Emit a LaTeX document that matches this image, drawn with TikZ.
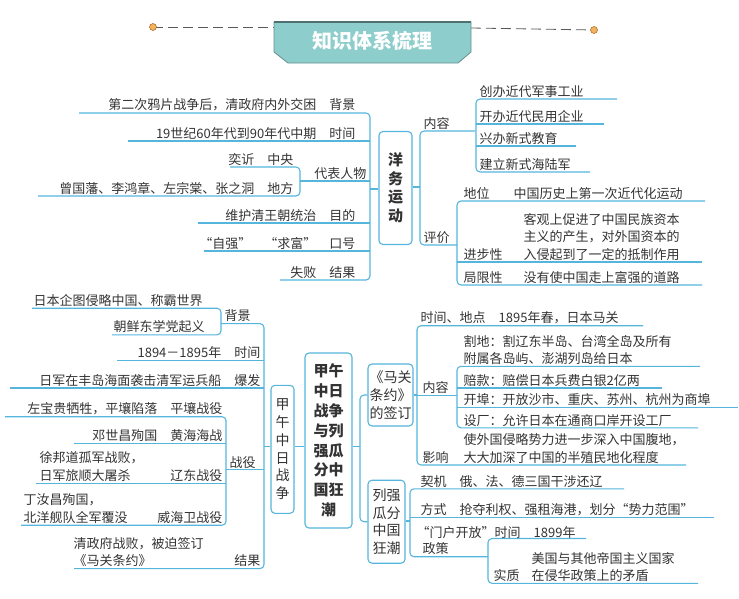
\documentclass[tikz,border=0pt]{standalone}
\usepackage{fontspec}
\setmainfont{Noto Sans CJK SC}
\usetikzlibrary{positioning}
\definecolor{lnblue}{HTML}{55B5DC}
\definecolor{txtgray}{HTML}{333333}
\definecolor{bannerfill}{HTML}{8DCDCB}
\definecolor{dotorange}{HTML}{F2B35E}
\tikzset{
  ln/.style={draw=lnblue, line width=1.1pt, rounded corners=4pt},
  tx/.style={inner sep=1.5pt, text=txtgray, font=\fontsize{13}{17.5}\selectfont, align=left},
  box/.style={draw=lnblue, line width=1.1pt, rounded corners=4pt, fill=white, text=txtgray, align=center, inner sep=0pt}
}
\begin{document}
\begin{tikzpicture}[x=1pt, y=-1pt]
    \useasboundingbox (0,0) rectangle (739,598);

    % banner
    \draw[gray!70!black, dash pattern=on 10pt off 5pt, line width=0.8pt] (153,27) -- (274,27);
    \draw[gray!70!black, dash pattern=on 10pt off 5pt, line width=0.8pt] (471,28) -- (594,30);
    \filldraw[fill=dotorange, draw=orange!60!black] (153,27) circle (3.5) (594,30) circle (3.5);
    \filldraw[fill=bannerfill, draw=bannerfill!70!black, line width=0.8pt]
        (274,22) -- (471,22) -- (471,52) -- (458,63) -- (288,63) -- (274,52) -- cycle;
    \draw[bannerfill!55!black, line width=1.5pt] (274,22) -- (471,22);
    \node[text=white, font=\fontsize{20}{22}\selectfont\bfseries] (title) at (372,41) {知识体系梳理};

    % Yangwu movement
    \node[box, minimum width=33, minimum height=113, font=\fontsize{15}{18.5}\selectfont\bfseries] (ywyd) at (395.5,188) {洋\\务\\运\\动};
    \draw[ln] (79,113) -- (370,113) -- (370,280) -- (280,280);
    \draw[ln] (128,141) -- (370,141);
    \draw[ln] (300,181) -- (370,181);
    \draw[ln] (230,167) -- (300,167) -- (300,196) -- (38,196);
    \draw[ln] (198,223) -- (370,223);
    \draw[ln] (204,251) -- (370,251);
    \draw[ln] (370,189) -- (ywyd.west |- 0,189);
    \node[tx, anchor=south east] (bj1) at (357,113) {第二次鸦片战争后，清政府内外交困\quad 背景};
    \node[tx, anchor=south east] (sj1) at (357,141) {19世纪60年代到90年代中期\quad 时间};
    \node[tx, anchor=south east] (zy) at (295,167) {奕䜣\quad 中央};
    \node[tx, anchor=south east] (dbrw) at (368,181) {代表人物};
    \node[tx, anchor=south east] (df) at (295,196) {曾国藩、李鸿章、左宗棠、张之洞\quad 地方};
    \node[tx, anchor=south east] (md) at (357,223) {维护清王朝统治\quad 目的};
    \node[tx, anchor=south east] (kh) at (357,251) {“自强”\quad “求富”\quad 口号};
    \node[tx, anchor=south east] (jg1) at (357,280) {失败\quad 结果};

    \draw[ln] (475,131) -- (420,131) -- (420,245) -- (457,245);
    \draw[ln] (ywyd.east |- 0,187) -- (420,187);
    \node[tx, anchor=south west] (nr1) at (422,131) {内容};
    \draw[ln] (617,99) -- (476,99) -- (476,172) -- (590,172);
    \draw[ln] (476,124) -- (604,124);
    \draw[ln] (476,146) -- (576,146);
    \node[tx, anchor=south west] (nr1a) at (478,99) {创办近代军事工业};
    \node[tx, anchor=south west] (nr1b) at (478,124) {开办近代民用企业};
    \node[tx, anchor=south west] (nr1c) at (478,146) {兴办新式教育};
    \node[tx, anchor=south west] (nr1d) at (478,172) {建立新式海陆军};
    \node[tx, anchor=south west] (pj) at (422,245) {评价};
    \draw[ln] (705,201) -- (457,201) -- (457,285) -- (702,285);
    \draw[ln] (457,262) -- (702,262);
    \node[tx, anchor=south west] (dw) at (462,201) {地位};
    \node[tx, anchor=south west] (dwt) at (512,201) {中国历史上第一次近代化运动};
    \node[tx, anchor=south west] (jbx) at (462,262) {进步性};
    \node[tx, anchor=south west] (jbxt) at (522,262) {客观上促进了中国民族资本\\主义的产生，对外国资本的\\入侵起到了一定的抵制作用};
    \node[tx, anchor=south west] (jxx) at (462,285) {局限性};
    \node[tx, anchor=south west] (jxxt) at (522,285) {没有使中国走上富强的道路};

    % Sino-Japanese war and partition
    \node[box, minimum width=47, minimum height=175, font=\fontsize{15}{19.8}\selectfont\bfseries] (zhu) at (328.5,440.5) {甲午\\中日\\战争\\与列\\强瓜\\分中\\国狂\\潮};
    \node[box, minimum width=23, minimum height=128, font=\fontsize{14}{17.8}\selectfont] (jw) at (282.5,449.3) {甲\\午\\中\\日\\战\\争};
    \draw[ln] (jw.east |- 0,446.8) -- (zhu.west |- 0,446.8);
    \draw[ln] (221,323.6) -- (264,323.6) -- (264,568.6) -- (74,568.6);
    \draw[ln] (264,446.8) -- (jw.west |- 0,446.8);
    \node[tx, anchor=south west] (bj2) at (223,323.6) {背景};
    \draw[ln] (32,308.2) -- (221,308.2) -- (221,334.8) -- (112,334.8);
    \node[tx, anchor=south west] (bj2a) at (32,308.2) {日本企图侵略中国、称霸世界};
    \node[tx, anchor=south west] (bj2b) at (112,334.8) {朝鲜东学党起义};
    \draw[ln] (117,360.7) -- (264,360.7);
    \node[tx, anchor=south east] (sj2) at (262,360.7) {1894－1895年\quad 时间};
    \draw[ln] (10,388) -- (264,388);
    \node[tx, anchor=south east] (bf) at (262,388) {日军在丰岛海面袭击清军运兵船\quad 爆发};
    \draw[ln] (226,469.9) -- (264,469.9);
    \node[tx, anchor=south west] (zhy) at (228,469.9) {战役};
    \draw[ln] (5,416.7) -- (226,416.7) -- (226,525.2) -- (21,525.2);
    \draw[ln] (74,443.3) -- (226,443.3);
    \draw[ln] (36,483.2) -- (226,483.2);
    \node[tx, anchor=south east] (pr) at (224,416.7) {左宝贵牺牲，平壤陷落\quad 平壤战役};
    \node[tx, anchor=south east] (hh) at (224,443.3) {邓世昌殉国\quad 黄海海战};
    \node[tx, anchor=south west] (ldt) at (38,483.2) {徐邦道孤军战败，\\日军旅顺大屠杀};
    \node[tx, anchor=south east] (ld) at (224,483.2) {辽东战役};
    \node[tx, anchor=south west] (whwt) at (22,525.2) {丁汝昌殉国，\\北洋舰队全军覆没};
    \node[tx, anchor=south east] (whw) at (224,525.2) {威海卫战役};
    \node[tx, anchor=south west] (jg2t) at (72,568.6) {清政府战败，被迫签订\\《马关条约》};
    \node[tx, anchor=south east] (jg2) at (262,568.6) {结果};

    \node[box, minimum width=45, minimum height=62, font=\fontsize{14}{18.3}\selectfont] (mg) at (390.5,395) {《马关\\条约》\\的签订};
    \node[box, minimum width=37, minimum height=83, font=\fontsize{14}{17.5}\selectfont] (lq) at (386.5,521.7) {列强\\瓜分\\中国\\狂潮};
    \draw[ln] (mg.west) -- (360,395) -- (360,521.7) -- (lq.west);
    \draw[ln] (zhu.east |- 0,446.8) -- (360,446.8);

    \draw[ln] (643,325.7) -- (417,325.7) -- (417,465) -- (686,465);
    \draw[ln] (mg.east) -- (417,395);
    \node[tx, anchor=south west] (sjdd) at (419,325.7) {时间、地点\quad 1895年春，日本马关};
    \draw[ln] (417,395.7) -- (457,395.7);
    \node[tx, anchor=south west] (nr2) at (421,395.7) {内容};
    \draw[ln] (700,366.3) -- (457,366.3) -- (457,427.9) -- (698,427.9);
    \draw[ln] (457,388) -- (662,388);
    \draw[ln] (457,407.6) -- (738,407.6);
    \node[tx, anchor=south west] (gd) at (462,366.3) {割地：割辽东半岛、台湾全岛及所有\\附属各岛屿、澎湖列岛给日本};
    \node[tx, anchor=south west] (pk) at (462,388) {赔款：赔偿日本兵费白银2亿两};
    \node[tx, anchor=south west] (kb) at (462,407.6) {开埠：开放沙市、重庆、苏州、杭州为商埠};
    \node[tx, anchor=south west] (sc) at (462,427.9) {设厂：允许日本在通商口岸开设工厂};
    \node[tx, anchor=south west] (yx) at (421,465) {影响};
    \node[tx, anchor=south west] (yxt) at (462,465) {使外国侵略势力进一步深入中国腹地，\\大大加深了中国的半殖民地化程度};

    \draw[ln] (624,488.8) -- (410,488.8) -- (410,556.7) -- (488,556.7);
    \draw[ln] (lq.east |- 0,521) -- (410,521);
    \draw[ln] (410,517.5) -- (714,517.5);
    \node[tx, anchor=south west] (qj) at (419,488.8) {契机\quad 俄、法、德三国干涉还辽};
    \node[tx, anchor=south west] (fs) at (419,517.5) {方式\quad 抢夺利权、强租海港，划分“势力范围”};
    \node[tx, anchor=south west] (mh) at (415,539.9) {“门户开放”时间\quad 1899年};
    \node[tx, anchor=south west] (zc) at (421,556.7) {政策};
    \draw[ln] (586,538.5) -- (488,538.5) -- (488,583.3) -- (698,583.3);
    \node[tx, anchor=south west] (shz) at (492,583.3) {实质};
    \node[tx, anchor=south west] (shzt) at (530,583.3) {美国与其他帝国主义国家\\在侵华政策上的矛盾};
\end{tikzpicture}
\end{document}
